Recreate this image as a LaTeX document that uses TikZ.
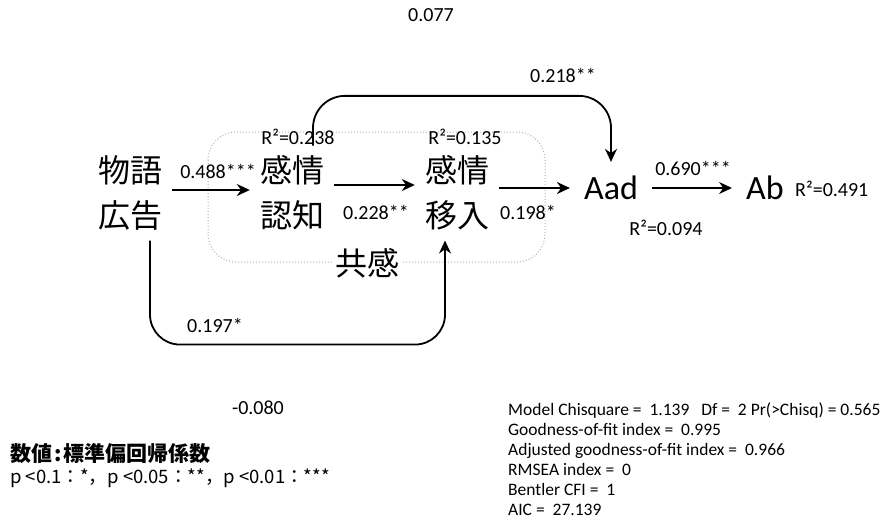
\documentclass[tikz,border=0pt]{standalone}
\usepackage{fontspec}
\setmainfont{Carlito}
\newfontfamily\cjk{Noto Sans CJK JP}
\usetikzlibrary{arrows.meta}

\begin{document}
\begin{tikzpicture}[x=1pt,y=-1pt,
    var/.style={font=\cjk\fontsize{32}{45}\selectfont, align=center, inner sep=10pt},
    obs/.style={font=\fontsize{34}{40}\selectfont, inner sep=14pt},
    coef/.style={font=\fontsize{20}{24}\selectfont, inner sep=0pt},
    effect/.style={-{Stealth[length=13pt,width=12pt]}, line width=1.8pt},
    latent/.style={draw=gray!60, dotted, line width=1pt, rounded corners=28pt}]
    \useasboundingbox (0,0) rectangle (883,525);

    % Define the variables
    \node[var] (story) at (130,193) {物語\\広告};
    \node[var] (cog) at (292,193) {感情\\認知};
    \node[var] (emp) at (457,193) {感情\\移入};
    \node[obs] (Aad) at (611,188) {Aad};
    \node[obs] (Ab) at (765,188) {Ab};

    % Draw the latent variable
    \draw[latent] (208,132) rectangle (545,262);
    \node[var, fill=white, inner sep=2pt] (empathy) at (367,263) {共感};

    % Draw arrows
    \draw[effect] ([yshift=3pt]story.east) -- ([yshift=3pt]cog.west);
    \draw[effect] ([yshift=8pt]cog.east) -- ([yshift=8pt]emp.west);
    \draw[effect] (emp.east |- Aad.west) -- (Aad.west);
    \draw[effect] (Aad) -- (Ab);
    \draw[effect, rounded corners=32pt] ([xshift=21pt]cog.north) |- ([yshift=66pt]Aad.north) -- (Aad.north);
    \draw[effect, rounded corners=30pt] ([xshift=20pt]story.south) -- ++(0,104) -| ([xshift=-12pt]emp.south);

    % Coefficients
    \node[coef] (c1) at (218,171) {0.488***};
    \node[coef] (c2) at (376,212) {0.228**};
    \node[coef] (c3) at (528,212) {0.198*};
    \node[coef] (c4) at (693,168) {0.690***};
    \node[coef] (c5) at (563,75) {0.218**};
    \node[coef] (c6) at (215,325) {0.197*};
    \node[coef] (c7) at (431,15) {0.077};
    \node[coef] (c8) at (258,408) {-0.080};

    % R squared
    \node[coef] (r1) at (298,137) {R²=0.238};
    \node[coef] (r2) at (465,137) {R²=0.135};
    \node[coef] (r3) at (666,228) {R²=0.094};
    \node[coef, anchor=west] (r4) at (795,189) {R²=0.491};

    % Legend and fit
    \node[anchor=west, inner sep=0pt, font=\cjk\bfseries\fontsize{21}{24}\selectfont] (note) at (10,454) {数値\kern2pt:\kern2pt標準偏回帰係数};
    \node[anchor=west, inner sep=0pt, font=\cjk\fontsize{18.5}{20}\selectfont] (sig) at (10,478) {p <0.1：*，p <0.05：**，p <0.01：***};
    \node[anchor=north west, align=left, inner sep=0pt, font=\fontsize{17.5}{20}\selectfont] (fit) at (508,402) {%
        Model Chisquare = ~1.139 ~~Df = ~2 Pr(>Chisq) = 0.565\\
        Goodness-of-fit index = ~0.995\\
        Adjusted goodness-of-fit index = ~0.966\\
        RMSEA index = ~0\\
        Bentler CFI = ~1\\
        AIC = ~27.139};
\end{tikzpicture}
\end{document}
